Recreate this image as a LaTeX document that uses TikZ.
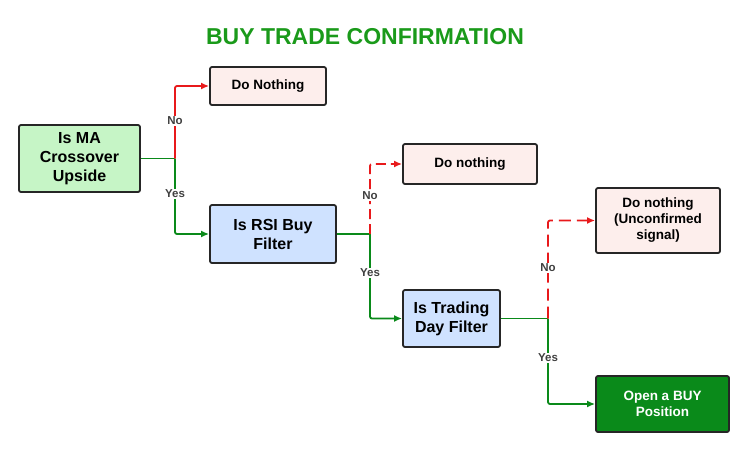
\documentclass[tikz,border=0pt]{standalone}
\usepackage{fontspec}
\setmainfont{Liberation Sans}
\usetikzlibrary{arrows.meta}
\definecolor{gfill}{HTML}{C6F5C6}
\definecolor{bfill}{HTML}{CFE2FF}
\definecolor{rfill}{HTML}{FDEEEC}
\definecolor{dgreen}{HTML}{0A8A1A}
\definecolor{tgreen}{HTML}{1A9A1A}
\definecolor{lred}{HTML}{E8191B}
\begin{document}
\begin{tikzpicture}[x=1pt,y=-1pt,
 box/.style={draw=black!85,line width=1.8pt,rounded corners=2pt,align=center,font=\bfseries\fontsize{13.5}{16}\selectfont},
 yesl/.style={draw=dgreen,line width=1.8pt,-{Latex[length=8pt,width=7pt]},rounded corners=2pt},
 nol/.style={draw=lred,line width=1.8pt,-{Latex[length=8pt,width=7pt]},rounded corners=2pt},
 lab/.style={fill=white,inner sep=1pt,font=\bfseries\fontsize{11.5}{13}\selectfont,text=black!75}]
\useasboundingbox (0,0) rectangle (749,451);
\node[font=\bfseries\fontsize{23}{26}\selectfont,text=tgreen] (t) at (365,37) {BUY TRADE CONFIRMATION};
\node[box,fill=gfill,minimum width=121pt,minimum height=67pt,font=\bfseries\fontsize{16}{19}\selectfont] (a) at (79.5,158.5) {Is MA\\Crossover\\Upside};
\node[box,fill=rfill,minimum width=116pt,minimum height=38pt] (d1) at (268,86) {Do Nothing};
\node[box,fill=bfill,minimum width=126pt,minimum height=58pt,font=\bfseries\fontsize{16}{19}\selectfont] (b) at (273,234) {Is RSI Buy\\Filter};
\node[box,fill=rfill,minimum width=134pt,minimum height=40pt] (d2) at (470,164) {Do nothing};
\node[box,fill=bfill,minimum width=97pt,minimum height=57pt,font=\bfseries\fontsize{16}{19}\selectfont] (c) at (451.5,318.5) {Is Trading\\Day Filter};
\node[box,fill=rfill,minimum width=124pt,minimum height=65pt] (d3) at (658,220.5) {Do nothing\\(Unconfirmed\\signal)};
\node[box,fill=dgreen,text=white,minimum width=133pt,minimum height=56pt] (e) at (662.5,404) {Open a BUY\\Position};
\coordinate (ja) at (175,158.5);
\coordinate (jb) at (370,234);
\coordinate (jc) at (548,318.5);
\draw[dgreen,line width=1.8pt] (a.east) -- (ja);
\draw[yesl] (ja) |- (b.west);
\draw[nol] (ja) |- (d1.west);
\draw[dgreen,line width=1.8pt] (b.east) -- (jb);
\draw[yesl] (jb) |- (c.west);
\draw[nol,dash pattern=on 10pt off 5pt] (jb) |- (d2.west);
\draw[dgreen,line width=1.8pt] (c.east) -- (jc);
\draw[yesl] (jc) |- (e.west);
\draw[nol,dash pattern=on 12pt off 6pt] (jc) |- (d3.west);
\node[lab] (n1) at (175,121) {No};
\node[lab] (y1) at (175,194) {Yes};
\node[lab] (n2) at (370,196) {No};
\node[lab] (y2) at (370,273) {Yes};
\node[lab] (n3) at (548,268) {No};
\node[lab] (y3) at (548,358) {Yes};
\end{tikzpicture}
\end{document}
